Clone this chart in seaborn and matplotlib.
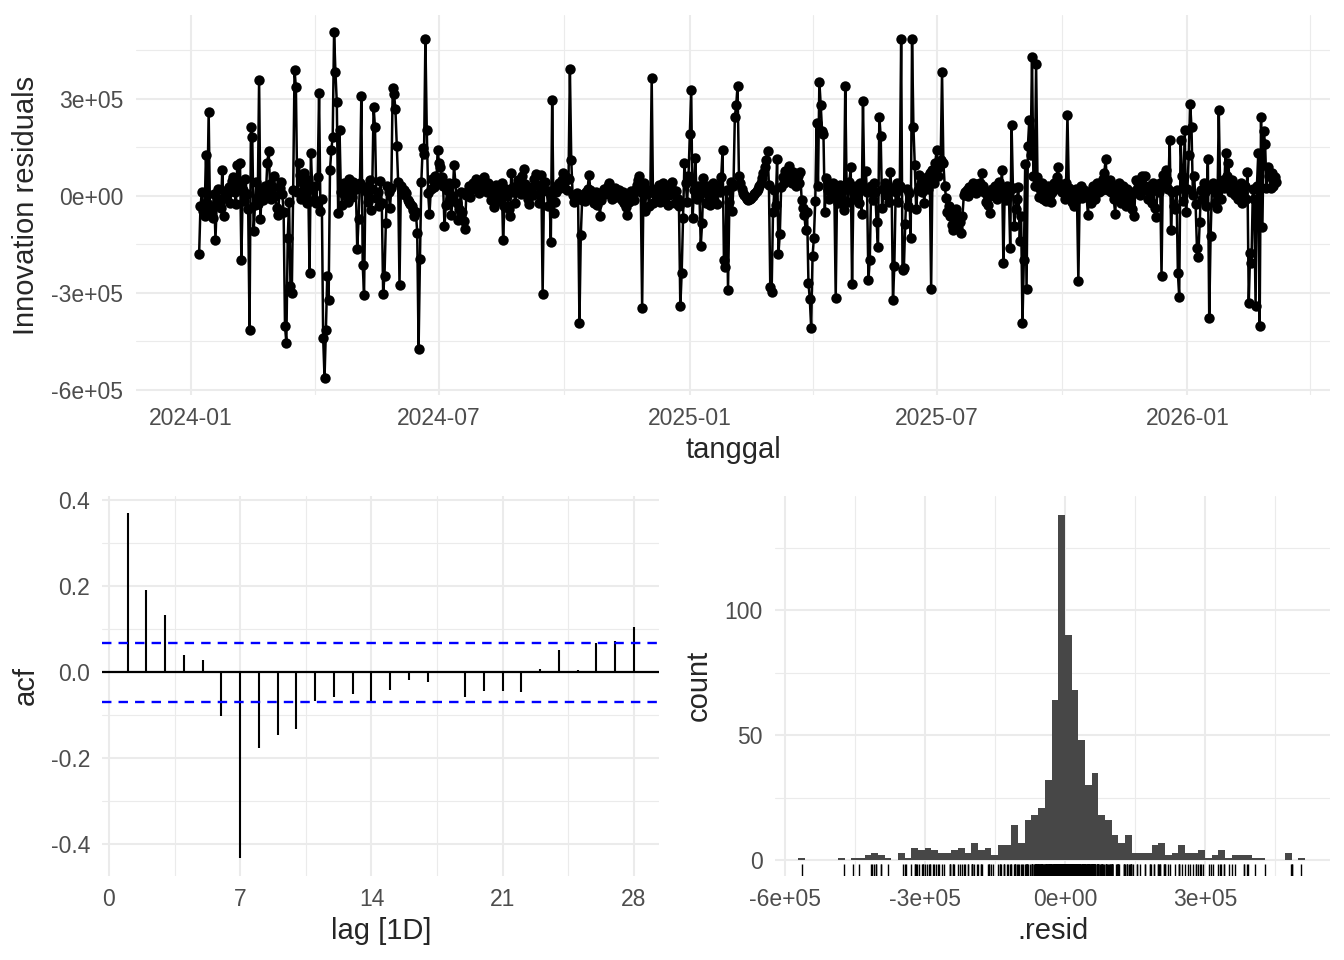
import numpy as np
import pandas as pd
import seaborn as sns
import matplotlib.pyplot as plt
import matplotlib.dates as mdates
from matplotlib.ticker import FixedLocator, FuncFormatter

# daily innovation residuals in thousands, one list per month, starting 2024-01-07
jan24 = [-180, -33, 11, -46, -61, 127, -22, 258, -55, -31, -70, 4, -136, -12, 21, -16, -38, 81, -64, 14, -6, 9, 28, -23, 47]
feb24 = [58, 13, -26, 95, 33, 101, -198, 19, -17, 52, 6, -41, -414, 214, 183, -110, -29, 42, -24, 359, -71, 22, -13, 31, 8, 100, 140, 37, -9]
mar24 = [27, 61, -2, -37, -58, 23, 44, 7, -51, -404, -454, -130, -19, -280, -300, 18, 390, 335, 12, 100, 63, -11, 38, 69, 16, -21, 49, -238, 133, 24, -14]
apr24 = [29, -23, 57, 318, -48, -9, -440, -563, -415, -247, -322, 79, 142, 183, 506, 383, 289, -53, 204, 11, -28, 41, 2, 26, -18, 53, 17, -4, 44, 32]
may24 = [21, -164, -71, 39, 309, -213, -306, 28, 13, -19, 48, -43, 22, 274, 214, -6, 11, -32, 46, -21, -303, -247, -83, 29, 12, -38, 23, 333, 314, 268, 155]
jun24 = [44, -277, 31, 16, 19, 1, 8, -12, -18, -26, -33, -45, -64, -49, -115, -474, -195, 42, 147, 128, 486, 204, 9, -57, 21, 51, 27, 62, 38, 142]
jul24 = [100, 88, 58, 31, -93, -29, 19, 41, -11, -59, -1, 96, 39, -22, -75, -42, 12, -51, -79, -103, 3, 16, 29, -3, 22, 38, 26, 52, 34, 9, 43]
aug24 = [31, 46, 58, 18, 11, 39, 24, -12, 1, -35, 9, 32, 19, -16, 13, 41, -138, -31, 21, -2, -41, -64, 70, 28, 12, -22, 18, 49, 42, 7, 61]
sep24 = [84, 37, 22, -9, -25, 11, 28, 2, 51, 68, 32, -21, 8, 65, -304, 19, 42, 14, -31, 16, -144, 295, -53, -19, 12, 33, 39, 23, 48, 70]
oct24 = [41, 59, 18, 52, 392, 111, 3, -18, -11, 9, -6, -394, -121, -12, 4, -16, 13, 21, 65, 19, -9, 6, -21, 11, -29, -1, -62, -12, 12, 22, 6]
nov24 = [21, 29, 38, 12, -11, 14, 23, -4, 6, 18, 1, -14, 11, -22, -34, -58, -19, 2, 16, 4, -12, 19, 33, 49, 60, 11, -347, 41, -48, 9]
dec24 = [18, -31, 12, 364, -21, 9, 22, -11, 32, -19, 13, 39, -16, 6, 21, -29, 1, 26, 42, 8, -22, 14, -9, -31, -342, -239, -70, 100, 38, -18, 60]
jan25 = [191, 328, -70, 19, 117, -11, 31, 9, -155, -83, 55, 12, -21, 29, 2, -28, 18, 41, -12, 16, -24, 33, 11, 59, 142, -200, -221, 19, -291, -19, 42]
feb25 = [-48, 31, 245, 280, 341, 61, 41, 22, 9, 1, -4, -9, -14, -11, -6, -1, 4, 9, 14, 21, 29, 39, 54, 71, 89, 111, 137, 32]
mar25 = [-283, -296, -51, 19, -29, 113, -179, -117, 28, 59, 41, 78, 52, 68, 92, 61, 39, 75, 48, 31, 62, 38, 72, -12, -37, -59, -107, -49, -270, -320, -409]
apr25 = [-187, -130, -15, 225, 31, 352, 281, 200, 191, -49, 55, 19, -11, 29, 1, 41, 12, -316, 18, -21, 32, 9, -12, -45, 341, 28, -19, 42, 88, -272]
may25 = [19, -11, 31, 8, -21, 41, -55, 292, 22, 78, 11, -260, -198, 29, -12, 39, 12, -82, -159, 245, 185, -37, 21, 38, 2, 31, -19, 72, 18, -322, -217]
jun25 = [12, 41, -19, 29, 485, -229, -224, -86, 21, -31, 9, -130, 486, 212, 96, -41, 19, 65, 31, 11, 39, -22, 51, 59, 21, 70, -289, 79, 41, 100]
jul25 = [142, 61, 89, 110, 383, 100, 29, -8, -50, -31, -61, -89, -107, -71, -41, -59, -100, -81, -115, -61, 3, 11, 19, -1, 28, 14, 24, 41, 21, 9, 36]
aug25 = [21, 38, 70, 31, 11, -19, 1, -29, -53, 12, 21, -1, 29, -11, 19, 42, 11, 79, -208, 19, -12, 31, 12, -162, 220, 24, -92, -41, -9, 28, -140]
sep25 = [-61, -394, -200, 98, -289, 155, 235, 127, 429, 61, 29, 407, 59, -3, 21, 41, -11, 19, -15, 11, 31, 1, -19, 12, 39, 21, 59, 88, 41, 19]
oct25 = [11, 29, -11, 41, 250, 24, -1, -19, 12, -31, 21, -9, -263, 11, 29, -6, 19, 2, 3, -58, 12, -21, 16, 31, -11, 21, 39, 12, 28, 19, 51]
nov25 = [70, 113, 41, 19, 49, 11, 31, -11, -55, 19, 1, 39, -21, 11, 31, -9, -31, 21, -1, -19, -41, 12, -64, 49, 21, 41, 1, 29, 61, 19]
dec25 = [60, 21, -11, 29, 11, -21, 41, -39, -67, 21, 12, 39, -247, 65, 31, 80, 49, 21, 171, -107, 11, -31, -41, 19, -240, -313, 171, 62, -15, 202, -51]
jan26 = [21, 127, 285, 212, 3, 61, -25, -163, -188, -81, 19, -11, 41, 12, -31, 113, -378, -125, 21, 39, -21, 11, -37, 264, 31, -9, 49, 24, 133, 61, 100]
feb26 = [41, 11, 49, 21, 1, 31, -11, 19, 41, -21, 11, 29, -11, 72, -330, -178, -208, 21, -9, -340, 31, 133, -404, 245, -98, 200, 160, 24]
mar26 = [90, 61, 24, 70, 31, 59, 44]

months = [jan24, feb24, mar24, apr24, may24, jun24, jul24, aug24, sep24, oct24, nov24, dec24,
          jan25, feb25, mar25, apr25, may25, jun25, jul25, aug25, sep25, oct25, nov25, dec25,
          jan26, feb26, mar26]
resid = np.concatenate(months) * 1000.0
dates = pd.date_range('2024-01-07', periods=len(resid), freq='D')
df = pd.DataFrame({'tanggal': dates, 'resid': resid})

# autocorrelation of the residuals
acf_lags = list(range(1, 29))
acf_vals = [0.370, 0.191, 0.134, 0.039, 0.029, -0.101, -0.433, -0.176, -0.145, -0.132,
            -0.068, -0.058, -0.050, -0.067, -0.041, -0.017, -0.023, -0.002, -0.057, -0.044,
            -0.044, -0.047, 0.008, 0.052, 0.005, 0.067, 0.073, 0.106]
acf_ci = 0.069

# histogram counts of the residuals
hist_counts = [1, 0, 0, 0, 0, 0, 1, 0, 1, 1, 2, 3, 2, 1, 0, 3, 1, 5, 4, 5,
               4, 3, 3, 4, 5, 3, 7, 4, 5, 2, 6, 6, 14, 7, 16, 18, 21, 32, 64, 138,
               90, 68, 48, 30, 35, 18, 16, 10, 7, 10, 3, 3, 3, 6, 7, 2, 3, 6, 3, 3,
               4, 1, 2, 4, 1, 2, 2, 2, 1, 1, 0, 0, 0, 3, 0, 1]
hist_start = -572e3
hist_binwidth = 14.3e3

sns.set_style('white')
plt.rcParams['font.family'] = ['Liberation Sans', 'DejaVu Sans']

W, H = 1344, 960
fig = plt.figure(figsize=(W / 100, H / 100), dpi=100)


def px_axes(left, top, right, bottom):
    return fig.add_axes([left / W, 1 - bottom / H, (right - left) / W, (bottom - top) / H])


GRID = '#EBEBEB'
TICK_COLOR = '#4D4D4D'
TICK_SIZE = 16.5
TITLE_SIZE = 21


def style(ax):
    for s in ax.spines.values():
        s.set_visible(False)
    ax.grid(which='major', color=GRID, lw=1.5)
    ax.grid(which='minor', color=GRID, lw=0.8)
    ax.set_axisbelow(True)
    ax.tick_params(which='both', length=0, labelsize=TICK_SIZE, labelcolor=TICK_COLOR, pad=9)


sci = FuncFormatter(lambda v, pos: f'{v:.0e}')

# ---- top: residuals over time
ax1 = px_axes(136, 15, 1330, 395)
sns.lineplot(data=df, x='tanggal', y='resid', ax=ax1, color='black', lw=1.8,
             marker='o', markersize=7.5, markeredgewidth=0)
d0 = mdates.date2num(pd.Timestamp('2024-01-01'))
ax1.set_xlim(d0 - 40.3, d0 + 835.6)
ax1.set_ylim(-616e3, 559e3)
ax1.xaxis.set_major_locator(FixedLocator(mdates.date2num(pd.to_datetime(
    ['2024-01-01', '2024-07-01', '2025-01-01', '2025-07-01', '2026-01-01']))))
ax1.xaxis.set_minor_locator(FixedLocator(mdates.date2num(pd.to_datetime(
    ['2024-04-01', '2024-10-01', '2025-04-01', '2025-10-01', '2026-04-01']))))
ax1.xaxis.set_major_formatter(mdates.DateFormatter('%Y-%m'))
ax1.yaxis.set_major_locator(FixedLocator([-6e5, -3e5, 0, 3e5]))
ax1.yaxis.set_minor_locator(FixedLocator([-4.5e5, -1.5e5, 1.5e5, 4.5e5]))
ax1.yaxis.set_major_formatter(sci)
style(ax1)
ax1.set_xlabel('tanggal', fontsize=TITLE_SIZE, labelpad=4)
ax1.set_ylabel('Innovation residuals', fontsize=TITLE_SIZE, labelpad=8)

# ---- bottom left: ACF
ax2 = px_axes(102.4, 496, 659.3, 875.5)
ax2.vlines(acf_lags, 0, acf_vals, color='black', lw=1.5)
ax2.axhline(0, color='black', lw=1.6)
ax2.axhline(acf_ci, color='blue', lw=1.7, dashes=(4, 3))
ax2.axhline(-acf_ci, color='blue', lw=1.7, dashes=(4, 3))
ax2.set_xlim(-0.35, 29.35)
ax2.set_ylim(-0.473, 0.41)
ax2.xaxis.set_major_locator(FixedLocator([0, 7, 14, 21, 28]))
ax2.xaxis.set_minor_locator(FixedLocator([3.5, 10.5, 17.5, 24.5]))
ax2.yaxis.set_major_locator(FixedLocator([-0.4, -0.2, 0, 0.2, 0.4]))
ax2.yaxis.set_minor_locator(FixedLocator([-0.3, -0.1, 0.1, 0.3]))
ax2.yaxis.set_major_formatter(FuncFormatter(lambda v, pos: f'{v:.1f}'))
style(ax2)
ax2.set_xlabel('lag [1D]', fontsize=TITLE_SIZE, labelpad=4)
ax2.set_ylabel('acf', fontsize=TITLE_SIZE, labelpad=8)

# ---- bottom right: histogram with rug
ax3 = px_axes(775, 496, 1330, 875.5)
n_bins = len(hist_counts)
centers = hist_start + hist_binwidth * (np.arange(n_bins) + 0.5)
hist_df = pd.DataFrame({'center': centers, 'count': np.asarray(hist_counts, dtype=float)})
sns.histplot(data=hist_df, x='center', weights='count', binwidth=hist_binwidth,
             binrange=(hist_start, hist_start + n_bins * hist_binwidth), ax=ax3,
             color='#474747', alpha=1, edgecolor='none', linewidth=0)
sns.rugplot(x=resid, ax=ax3, color='black', lw=1.7, height=0.03)
ax3.set_xlim(-621e3, 568e3)
ax3.set_ylim(-6.2, 145.6)
ax3.xaxis.set_major_locator(FixedLocator([-6e5, -3e5, 0, 3e5]))
ax3.xaxis.set_minor_locator(FixedLocator([-4.5e5, -1.5e5, 1.5e5, 4.5e5]))
ax3.xaxis.set_major_formatter(sci)
ax3.yaxis.set_major_locator(FixedLocator([0, 50, 100]))
ax3.yaxis.set_minor_locator(FixedLocator([25, 75, 125]))
style(ax3)
ax3.set_xlabel('.resid', fontsize=TITLE_SIZE, labelpad=4)
ax3.set_ylabel('count', fontsize=TITLE_SIZE, labelpad=8)

fig.savefig('out.png', dpi=100)
